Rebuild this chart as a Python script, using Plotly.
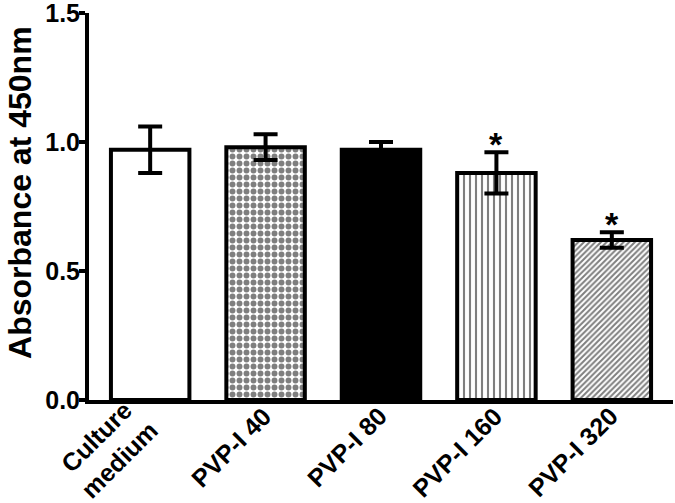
import plotly.graph_objects as go

categories = ["Culture medium", "PVP-I 40", "PVP-I 80", "PVP-I 160", "PVP-I 320"]
x_labels = ["Culture<br>medium", "PVP-I 40", "PVP-I 80", "PVP-I 160", "PVP-I 320"]
means = [0.97, 0.98, 0.97, 0.88, 0.62]
errors = [0.09, 0.05, 0.03, 0.08, 0.03]
significant = [False, False, False, True, True]
y_ticks = [0.0, 0.5, 1.0, 1.5]
y_ticklabels = ["0.0", "0.5", "1.0", "1.5"]

fills = ["white", "white", "black", "white", "white"]
shapes = ["", ".", "", "|", "/"]
sizes = [8, 7, 8, 6, 4]
solid = [0.3, 0.55, 0.3, 0.35, 0.5]

FONT = "Liberation Sans, Arial, sans-serif"

fig = go.Figure()
for i, c in enumerate(categories):
    fig.add_trace(go.Bar(
        x=[c], y=[means[i]], width=0.68,
        marker=dict(color=fills[i], line=dict(color="black", width=4),
                    pattern=dict(shape=shapes[i], size=sizes[i], solidity=solid[i],
                                 fgcolor="black", fillmode="overlay")),
        error_y=dict(type="data", array=[errors[i]], visible=True, color="black",
                     thickness=4, width=12),
    ))

for c, m, e, s in zip(categories, means, errors, significant):
    if s:
        fig.add_annotation(x=c, y=m + e, text="*", showarrow=False,
                           yanchor="bottom", yshift=-13,
                           font=dict(family=FONT, size=34, color="black", weight="bold"))

# rotated category labels
for c, lab in zip(categories, x_labels):
    multi = "<br>" in lab
    fig.add_annotation(x=c, y=0, xref="x", yref="paper", text=lab,
                       textangle=-45, showarrow=False, xanchor="right", yanchor="top",
                       align="center",
                       xshift=16 if multi else 14, yshift=10 if multi else 1,
                       font=dict(family=FONT, size=25, color="black", weight="bold"))

fig.add_annotation(text="Absorbance at 450nm", xref="paper", yref="paper",
                   x=0, y=0.535, xshift=-69, textangle=-90, showarrow=False,
                   xanchor="center", yanchor="middle",
                   font=dict(family=FONT, size=32, color="black", weight="bold"))

fig.update_layout(
    width=675, height=503,
    margin=dict(l=89, r=2, t=13, b=103),
    paper_bgcolor="white", plot_bgcolor="white",
    showlegend=False, barmode="overlay",
    font=dict(family=FONT, size=25, color="black", weight="bold"),
)
fig.update_xaxes(
    range=[-0.53, 4.53], showline=True, linewidth=4, linecolor="black",
    ticks="", showticklabels=False, showgrid=False, zeroline=False, automargin=False,
    categoryorder="array", categoryarray=categories,
)
fig.update_yaxes(
    range=[0, 1.5], tickvals=y_ticks, ticktext=y_ticklabels,
    showline=True, linewidth=4, linecolor="black",
    ticks="outside", ticklen=6, tickwidth=4, tickcolor="black",
    showgrid=False, zeroline=False, automargin=False, ticklabeloverflow="allow",
    ticklabelstandoff=-6,
    tickfont=dict(family=FONT, size=25, color="black", weight="bold"),
)

fig.write_html("out.html", config={"displayModeBar": False},
               post_script="document.body.style.margin='0';")
